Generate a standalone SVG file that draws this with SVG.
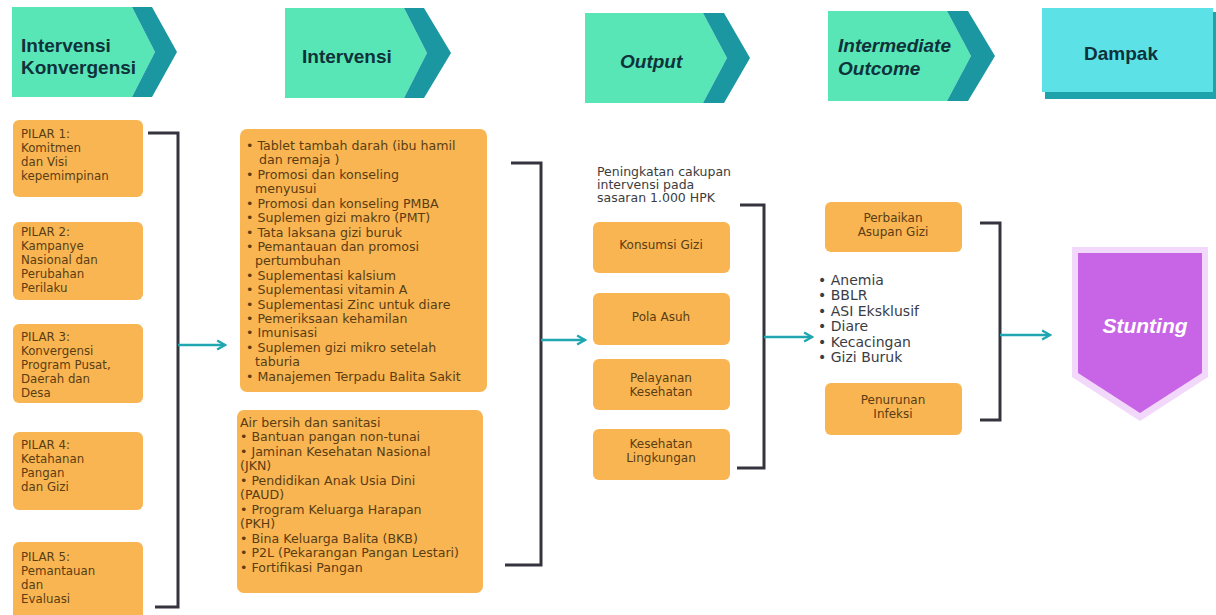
<svg xmlns="http://www.w3.org/2000/svg" width="1216" height="615" viewBox="0 0 1216 615">
<defs>
<style>
.hl{fill:#58e6b7}
.hd{fill:#1b97a1}
.ht{font-family:"Liberation Sans",Arial,sans-serif;font-weight:bold;font-size:19px;fill:#10323a}
.hi{font-style:italic}
.ob{fill:#f9b552}
.pt{font-family:"DejaVu Sans",Verdana,sans-serif;font-size:11.8px;fill:#5a3d12}
.it{font-family:"DejaVu Sans",Verdana,sans-serif;font-size:12.6px;fill:#5a3d12}
.ot{font-family:"DejaVu Sans",Verdana,sans-serif;font-size:12px;fill:#5a3d12;text-anchor:middle}
.gt{font-family:"DejaVu Sans",Verdana,sans-serif;font-size:12.5px;fill:#3c3c3c}
.bt{font-family:"DejaVu Sans",Verdana,sans-serif;font-size:14px;fill:#3c3c44}
.br{fill:none;stroke:#34343f;stroke-width:3}
.ar{fill:none;stroke:#1fa6b0;stroke-width:2.5;marker-end:url(#ah)}
</style>
<marker id="ah" viewBox="0 0 10 10" refX="8" refY="5" markerWidth="4.5" markerHeight="4.5" orient="auto" markerUnits="strokeWidth">
<path d="M1,1 L8,5 L1,9" fill="none" stroke="#1fa6b0" stroke-width="2"/>
</marker>
</defs>
<rect width="1216" height="615" fill="#ffffff"/>

<g id="header1">
<polygon class="hl" points="12,7 132,7 155,52 132,97 12,97"/>
<polygon class="hd" points="132,7 152,7 177,52 152,97 132,97 155,52"/>
<text class="ht" x="21" y="52">Intervensi</text>
<text class="ht" x="21" y="74">Konvergensi</text>
</g>
<g id="header2">
<polygon class="hl" points="285,8 404,8 427,53 404,98 285,98"/>
<polygon class="hd" points="404,8 424,8 451,53 424,98 404,98 427,53"/>
<text class="ht" x="302" y="63">Intervensi</text>
</g>
<g id="header3">
<polygon class="hl" points="585,13 703,13 727,58 703,103 585,103"/>
<polygon class="hd" points="703,13 724,13 750,58 724,103 703,103 727,58"/>
<text class="ht hi" x="620" y="68">Output</text>
</g>
<g id="header4">
<polygon class="hl" points="828,11 947,11 971,56 947,101 828,101"/>
<polygon class="hd" points="947,11 968,11 995,56 968,101 947,101 971,56"/>
<text class="ht hi" x="838" y="52">Intermediate</text>
<text class="ht hi" x="838" y="75">Outcome</text>
</g>
<g id="header5">
<rect x="1045" y="12" width="171" height="87" fill="#1fa3aa"/>
<rect x="1042" y="8" width="171" height="84" fill="#5ce1e6"/>
<text class="ht" x="1121" y="60" text-anchor="middle">Dampak</text>
</g>

<g id="pilar1">
<rect class="ob" x="13" y="120" width="130" height="77" rx="6"/>
<text class="pt" x="21" y="138">PILAR 1:</text>
<text class="pt" x="21" y="152">Komitmen</text>
<text class="pt" x="21" y="166">dan Visi</text>
<text class="pt" x="21" y="180">kepemimpinan</text>
</g>
<g id="pilar2">
<rect class="ob" x="13" y="222" width="130" height="78" rx="6"/>
<text class="pt" x="21" y="236">PILAR 2:</text>
<text class="pt" x="21" y="250">Kampanye</text>
<text class="pt" x="21" y="264">Nasional dan</text>
<text class="pt" x="21" y="278">Perubahan</text>
<text class="pt" x="21" y="292">Perilaku</text>
</g>
<g id="pilar3">
<rect class="ob" x="13" y="324" width="130" height="79" rx="6"/>
<text class="pt" x="21" y="341">PILAR 3:</text>
<text class="pt" x="21" y="355">Konvergensi</text>
<text class="pt" x="21" y="369">Program Pusat,</text>
<text class="pt" x="21" y="383">Daerah dan</text>
<text class="pt" x="21" y="397">Desa</text>
</g>
<g id="pilar4">
<rect class="ob" x="13" y="432" width="130" height="78" rx="6"/>
<text class="pt" x="21" y="449">PILAR 4:</text>
<text class="pt" x="21" y="463">Ketahanan</text>
<text class="pt" x="21" y="477">Pangan</text>
<text class="pt" x="21" y="491">dan Gizi</text>
</g>
<g id="pilar5">
<rect class="ob" x="13" y="542" width="130" height="80" rx="6"/>
<text class="pt" x="21" y="561">PILAR 5:</text>
<text class="pt" x="21" y="575">Pemantauan</text>
<text class="pt" x="21" y="589">dan</text>
<text class="pt" x="21" y="603">Evaluasi</text>
</g>

<g id="intervensi-spesifik">
<rect class="ob" x="240" y="129" width="247" height="263" rx="7"/>
<text class="it" x="246" y="150">• Tablet tambah darah (ibu hamil</text>
<text class="it" x="259" y="164">dan remaja )</text>
<text class="it" x="246" y="179">• Promosi dan konseling</text>
<text class="it" x="255" y="193">menyusui</text>
<text class="it" x="246" y="208">• Promosi dan konseling PMBA</text>
<text class="it" x="246" y="222">• Suplemen gizi makro (PMT)</text>
<text class="it" x="246" y="237">• Tata laksana gizi buruk</text>
<text class="it" x="246" y="251">• Pemantauan dan promosi</text>
<text class="it" x="255" y="265">pertumbuhan</text>
<text class="it" x="246" y="280">• Suplementasi kalsium</text>
<text class="it" x="246" y="294">• Suplementasi vitamin A</text>
<text class="it" x="246" y="309">• Suplementasi Zinc untuk diare</text>
<text class="it" x="246" y="323">• Pemeriksaan kehamilan</text>
<text class="it" x="246" y="337">• Imunisasi</text>
<text class="it" x="246" y="352">• Suplemen gizi mikro setelah</text>
<text class="it" x="255" y="366">taburia</text>
<text class="it" x="246" y="381">• Manajemen Terpadu Balita Sakit</text>
</g>
<g id="intervensi-sensitif">
<rect class="ob" x="237" y="410" width="246" height="183" rx="7"/>
<text class="it" x="240" y="427">Air bersih dan sanitasi</text>
<text class="it" x="240" y="441">• Bantuan pangan non-tunai</text>
<text class="it" x="240" y="456">•  Jaminan Kesehatan Nasional</text>
<text class="it" x="240" y="470">(JKN)</text>
<text class="it" x="240" y="485">• Pendidikan Anak Usia Dini</text>
<text class="it" x="240" y="499">(PAUD)</text>
<text class="it" x="240" y="514">• Program Keluarga Harapan</text>
<text class="it" x="240" y="528">(PKH)</text>
<text class="it" x="240" y="543">• Bina Keluarga Balita (BKB)</text>
<text class="it" x="240" y="557">• P2L (Pekarangan Pangan Lestari)</text>
<text class="it" x="240" y="572">• Fortifikasi Pangan</text>
</g>

<g id="output-label">
<text class="gt" x="597" y="176">Peningkatan cakupan</text>
<text class="gt" x="597" y="189">intervensi pada</text>
<text class="gt" x="597" y="202">sasaran 1.000 HPK</text>
</g>
<g id="konsumsi-gizi">
<rect class="ob" x="593" y="222" width="137" height="51" rx="6"/>
<text class="ot" x="661" y="249">Konsumsi Gizi</text>
</g>
<g id="pola-asuh">
<rect class="ob" x="593" y="293" width="137" height="52" rx="6"/>
<text class="ot" x="661" y="321">Pola Asuh</text>
</g>
<g id="pelayanan-kesehatan">
<rect class="ob" x="593" y="359" width="137" height="51" rx="6"/>
<text class="ot" x="661" y="382">Pelayanan</text>
<text class="ot" x="661" y="396">Kesehatan</text>
</g>
<g id="kesehatan-lingkungan">
<rect class="ob" x="593" y="429" width="137" height="51" rx="6"/>
<text class="ot" x="661" y="448">Kesehatan</text>
<text class="ot" x="661" y="462">Lingkungan</text>
</g>

<g id="perbaikan-asupan">
<rect class="ob" x="825" y="202" width="137" height="50" rx="6"/>
<text class="ot" x="893" y="222">Perbaikan</text>
<text class="ot" x="893" y="236">Asupan Gizi</text>
</g>
<g id="faktor-list">
<text class="bt" x="818" y="285">• Anemia</text>
<text class="bt" x="818" y="300">• BBLR</text>
<text class="bt" x="818" y="316">• ASI Eksklusif</text>
<text class="bt" x="818" y="331">• Diare</text>
<text class="bt" x="818" y="347">• Kecacingan</text>
<text class="bt" x="818" y="362">• Gizi Buruk</text>
</g>
<g id="penurunan-infeksi">
<rect class="ob" x="825" y="383" width="137" height="52" rx="6"/>
<text class="ot" x="893" y="404">Penurunan</text>
<text class="ot" x="893" y="418">Infeksi</text>
</g>

<g id="stunting">
<polygon points="1072,247 1208,247 1208,377 1140,421 1072,377" fill="#f2d8fa"/>
<polygon points="1078,253 1202,253 1202,373 1140,413 1078,373" fill="#c865e6"/>
<text x="1145" y="333" text-anchor="middle" font-family="Liberation Sans,Arial,sans-serif" font-weight="bold" font-style="italic" font-size="21" fill="#ffffff">Stunting</text>
</g>

<g id="connectors">
<polyline class="br" points="148,133 178,133 178,607 155,607"/>
<line class="ar" x1="178" y1="345" x2="225" y2="345"/>
<polyline class="br" points="511,163 541,163 541,565 505,565"/>
<line class="ar" x1="541" y1="340" x2="585" y2="340"/>
<polyline class="br" points="740,205 764,205 764,468 737,468"/>
<line class="ar" x1="764" y1="337" x2="812" y2="337"/>
<polyline class="br" points="980,223 1000,223 1000,420 980,420"/>
<line class="ar" x1="1000" y1="335" x2="1050" y2="335"/>
</g>
</svg>
